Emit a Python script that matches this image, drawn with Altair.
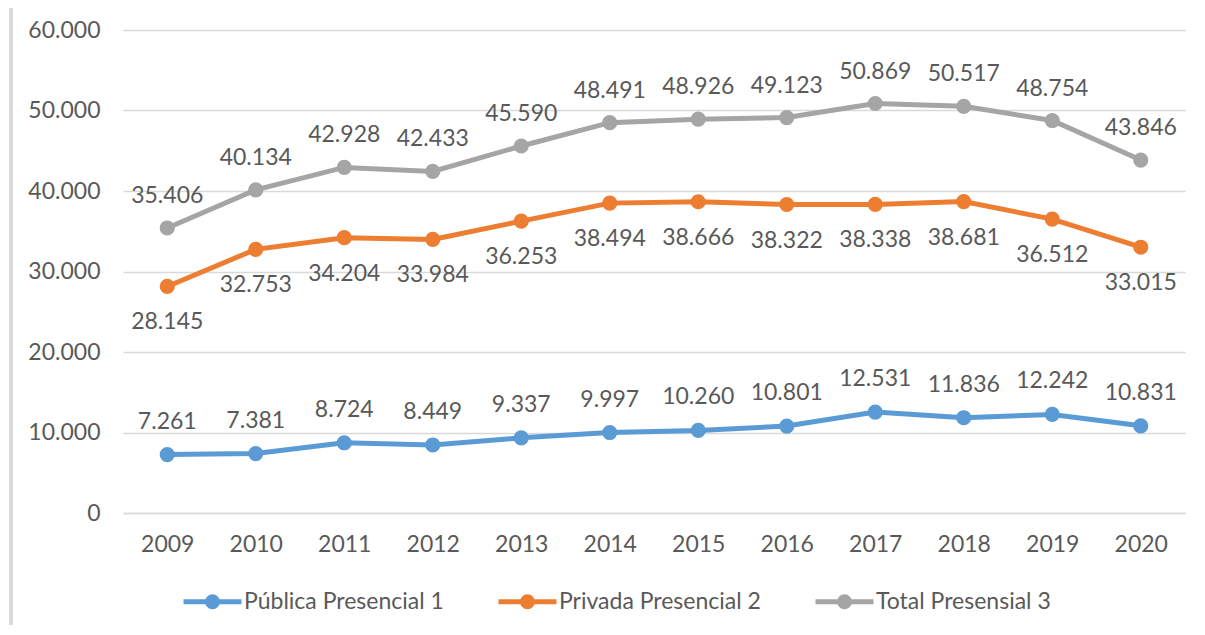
import altair as alt
import pandas as pd

years = ["2009", "2010", "2011", "2012", "2013", "2014", "2015", "2016", "2017", "2018", "2019", "2020"]
publica = [7261, 7381, 8724, 8449, 9337, 9997, 10260, 10801, 12531, 11836, 12242, 10831]
privada = [28145, 32753, 34204, 33984, 36253, 38494, 38666, 38322, 38338, 38681, 36512, 33015]
total = [35406, 40134, 42928, 42433, 45590, 48491, 48926, 49123, 50869, 50517, 48754, 43846]
series_names = ["Pública Presencial 1", "Privada Presencial 2", "Total Presensial 3"]
series_colors = ["#5B9BD5", "#ED7D31", "#A5A5A5"]
y_ticks = [0, 10000, 20000, 30000, 40000, 50000, 60000]

rows = []
for name, vals in zip(series_names, [publica, privada, total]):
    for y, v in zip(years, vals):
        rows.append({"year": y, "series": name, "value": v})
df = pd.DataFrame(rows)

FONT = "Lato"
TXT = "#595959"
GRID = "#D9D9D9"

# line through a solid dot (drawn with strokes only)
legend_path = ("M-1,0L1,0 "
               "M0.17,0A0.17,0.17,0,1,1,-0.17,0A0.17,0.17,0,1,1,0.17,0 "
               "M0.07,0A0.07,0.07,0,1,1,-0.07,0A0.07,0.07,0,1,1,0.07,0")

x_enc = alt.X("year:O", sort=years,
              axis=alt.Axis(title=None, labelAngle=0, ticks=False, domain=True,
                            domainColor=GRID, domainWidth=1.5, grid=False,
                            labelFont=FONT, labelFontSize=23, labelColor=TXT,
                            labelPadding=20))
y_enc = alt.Y("value:Q", scale=alt.Scale(domain=[0, 60000], nice=False),
              axis=alt.Axis(title=None, values=y_ticks, ticks=False, domain=False,
                            grid=True, gridColor=GRID, gridWidth=1.5,
                            labelFont=FONT, labelFontSize=23, labelColor=TXT,
                            labelPadding=23,
                            labelExpr="replace(format(datum.value, ','), ',', '.')"))
color_scale = alt.Scale(domain=series_names, range=series_colors)

legend = alt.Legend(
    title=None, orient="none", legendX=58, legendY=540,
    direction="horizontal", symbolType=legend_path,
    symbolSize=3364, symbolStrokeWidth=5, symbolOpacity=1,
    labelFont=FONT, labelFontSize=23, labelColor=TXT, labelLimit=500,
    labelOffset=0, columnPadding=44,
)

base = alt.Chart(df)

lines = base.mark_line(strokeWidth=5).encode(
    x=x_enc, y=y_enc,
    stroke=alt.Stroke("series:N", scale=color_scale, sort=series_names, legend=legend),
    detail="series:N",
)

points = base.mark_circle(size=230, opacity=1).encode(
    x=x_enc, y=y_enc,
    fill=alt.Fill("series:N", scale=color_scale, sort=series_names, legend=None),
)

offsets = {series_names[0]: -33, series_names[1]: 36, series_names[2]: -32}
texts = []
for name in series_names:
    texts.append(
        base.transform_filter(alt.datum.series == name)
        .transform_calculate(lab="replace(format(datum.value, ','), ',', '.')")
        .mark_text(font=FONT, fontSize=23, color=TXT, baseline="middle",
                   dy=offsets[name])
        .encode(x=x_enc, y=y_enc, text="lab:N")
    )

border = alt.Chart(df).mark_rule(color=GRID, strokeWidth=2.5).encode(
    x=alt.value(-112), y=alt.value(-22), y2=alt.value(620)
)

chart = alt.layer(border, lines, points, *texts).properties(
    width=1062, height=483,
    padding={"left": 115, "top": 22, "right": 10, "bottom": 112},
    autosize="none",
).configure_view(stroke=None)

chart.save("out.html", embed_options={"renderer": "svg", "actions": False})
